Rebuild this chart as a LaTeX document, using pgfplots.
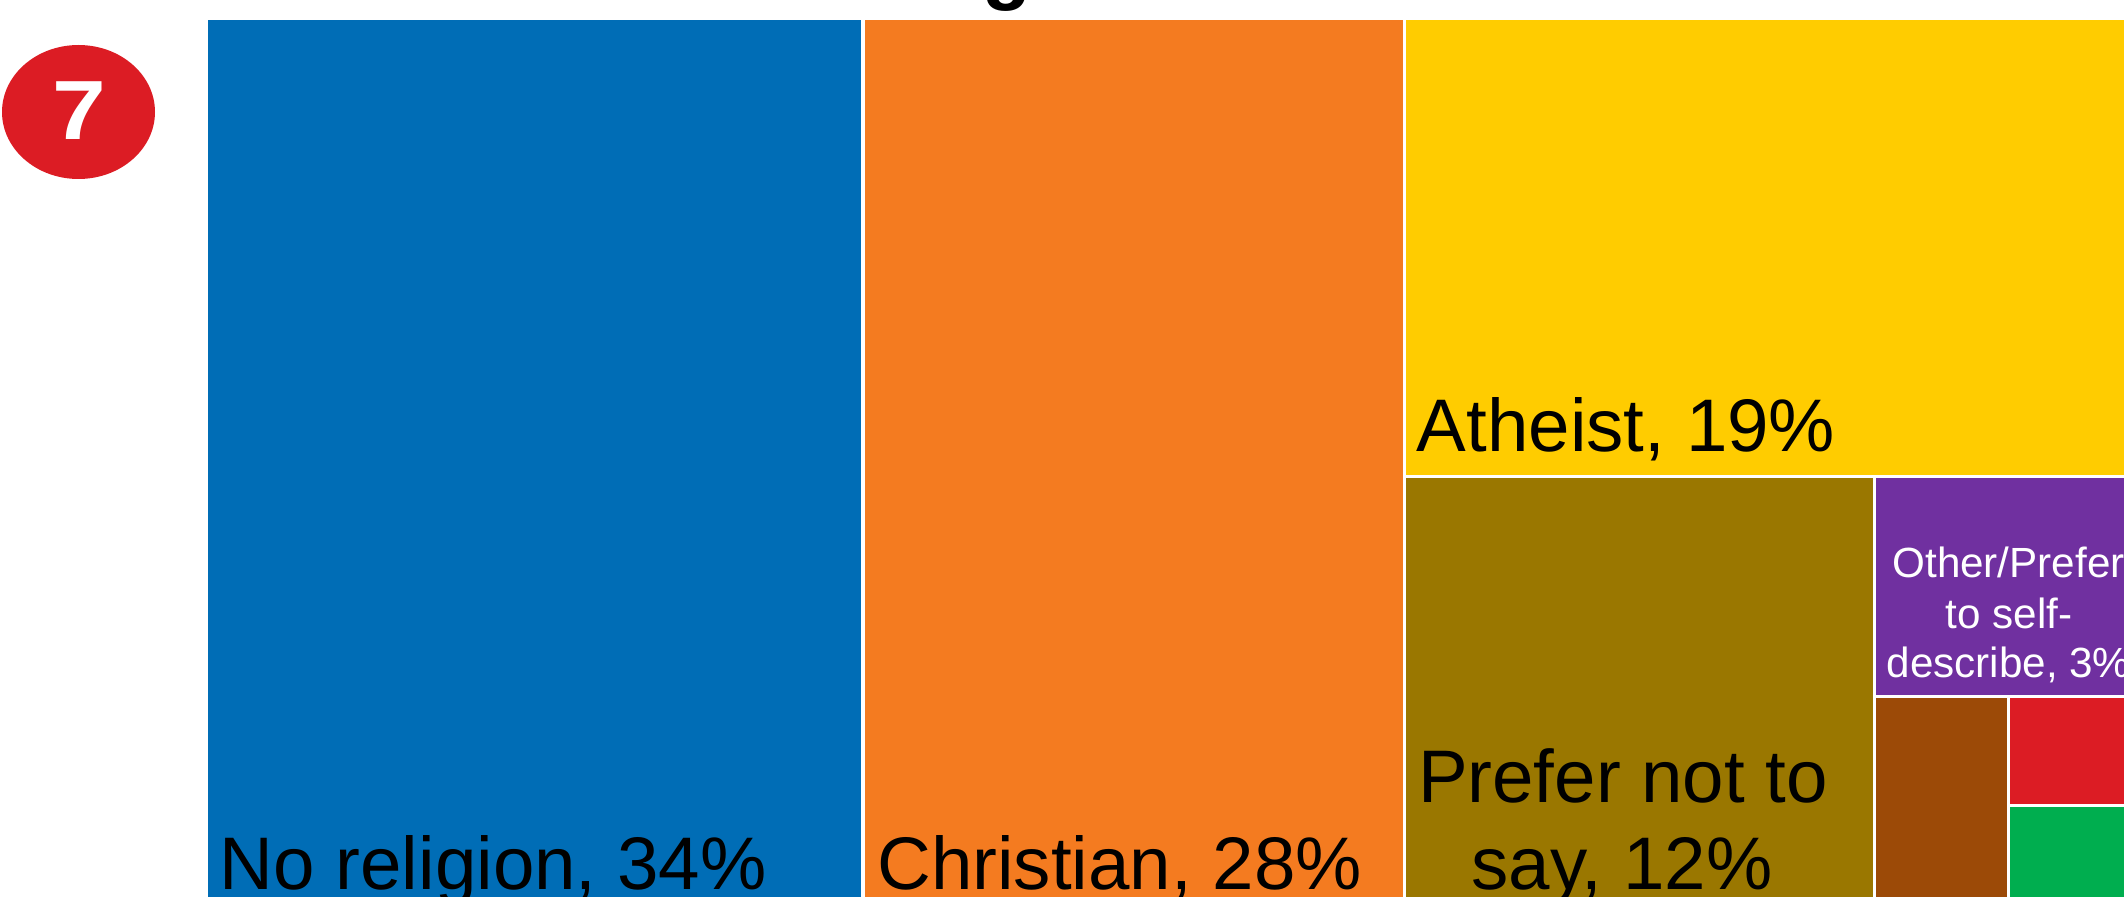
\documentclass[border=0pt]{standalone}
\usepackage{pgfplots}
\pgfplotsset{compat=1.18}
\usepackage{fontspec}
\setmainfont{Liberation Sans}
\definecolor{cBlue}{HTML}{006DB6}
\definecolor{cOrange}{HTML}{F47B20}
\definecolor{cYellow}{HTML}{FFCC00}
\definecolor{cOlive}{HTML}{9A7700}
\definecolor{cPurple}{HTML}{7030A0}
\definecolor{cBrown}{HTML}{9C4A07}
\definecolor{cRed}{HTML}{DC1C24}
\definecolor{cGreen}{HTML}{00AE4F}
\newcommand{\bigfnt}{\fontsize{37.25bp}{43.5bp}\selectfont}
\newcommand{\smallfnt}{\fontsize{21.1bp}{24.8bp}\selectfont}
\begin{document}
\begin{tikzpicture}
\path[clip,use as bounding box] (0,0) rectangle (1062bp,448.5bp);
\begin{axis}[
  at={(0,0)},anchor=south west,
  scale only axis,width=1062bp,height=448.5bp,
  xmin=0,xmax=2124,ymin=0,ymax=897,y dir=reverse,
  hide axis,clip=false]
\addplot[fill=cBlue,draw=none] coordinates {(208,20)(861,20)(861,897)(208,897)} --cycle;
\addplot[fill=cOrange,draw=none] coordinates {(864.5,20)(1402.5,20)(1402.5,897)(864.5,897)} --cycle;
\addplot[fill=cYellow,draw=none] coordinates {(1406,20)(2124,20)(2124,475)(1406,475)} --cycle;
\addplot[fill=cOlive,draw=none] coordinates {(1406,478)(1872.5,478)(1872.5,897)(1406,897)} --cycle;
\addplot[fill=cPurple,draw=none] coordinates {(1875.5,478)(2124,478)(2124,695)(1875.5,695)} --cycle;
\addplot[fill=cBrown,draw=none] coordinates {(1875.5,698)(2006.5,698)(2006.5,897)(1875.5,897)} --cycle;
\addplot[fill=cRed,draw=none] coordinates {(2009.5,698)(2124,698)(2124,803.5)(2009.5,803.5)} --cycle;
\addplot[fill=cGreen,draw=none] coordinates {(2009.5,806.5)(2124,806.5)(2124,897)(2009.5,897)} --cycle;
\fill[cRed] (axis cs:78.5,112) ellipse [x radius=76.5,y radius=67];
\node[anchor=center,text=white,font=\fontsize{42bp}{42bp}\selectfont\bfseries,xscale=1.15,inner sep=0pt] at (axis cs:79,110.5) {7};
\node[anchor=base west,inner sep=0pt,font=\fontsize{40bp}{40bp}\selectfont\bfseries] at (axis cs:835,-5) {Religion};
\node[anchor=base west,inner sep=0pt,font=\bigfnt] at (axis cs:219.5,889) {No religion, 34\%};
\node[anchor=base west,inner sep=0pt,font=\bigfnt] at (axis cs:877,889) {Christian, 28\%};
\node[anchor=base west,inner sep=0pt,font=\bigfnt] at (axis cs:1416.5,451) {Atheist, 19\%};
\node[anchor=base,inner sep=0pt,font=\bigfnt] at (axis cs:1623,802) {Prefer not to};
\node[anchor=base,inner sep=0pt,font=\bigfnt] at (axis cs:1622,889) {say, 12\%};
\node[anchor=base,inner sep=0pt,font=\smallfnt,text=white] at (axis cs:2008.5,577) {Other/Prefer};
\node[anchor=base,inner sep=0pt,font=\smallfnt,text=white] at (axis cs:2009,628) {to self-};
\node[anchor=base,inner sep=0pt,font=\smallfnt,text=white] at (axis cs:2008.5,677) {describe, 3\%};
\end{axis}
\end{tikzpicture}
\end{document}
